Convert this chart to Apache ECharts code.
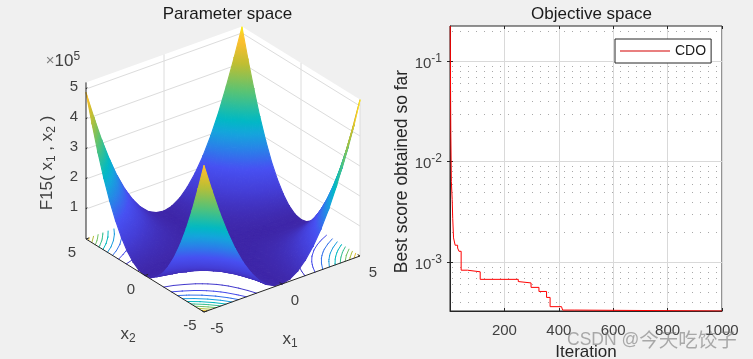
<!DOCTYPE html>
<html>
<head>
<meta charset="utf-8">
<style>
html, body { margin: 0; padding: 0; background: #f0f0f0; }
#main { width: 753px; height: 359px; }
</style>
<script src="https://cdn.jsdelivr.net/npm/echarts@6/dist/echarts.min.js"></script>
</head>
<body>
<div id="main"></div>
<script>
// left panel, values in units of 1e5
var x1Grid = [-5, -4.5, -4, -3.5, -3, -2.5, -2, -1.5, -1, -0.5, 0, 0.5, 1, 1.5, 2, 2.5, 3, 3.5, 4, 4.5, 5];
var zRows = [
    [0, 0, 0, 0, 0, 0, 0, 0, 0, 0, 0, 0, 0, 0, 0, 0, 0, 0, 0, 0, 0],
    [0.05, 0.04, 0.03, 0.02, 0.02, 0.01, 0.01, 0.00, 0.00, 0.00, 0.00, 0.00, 0.00, 0.01, 0.01, 0.01, 0.02, 0.03, 0.03, 0.04, 0.05],
    [0.20, 0.16, 0.12, 0.10, 0.07, 0.05, 0.03, 0.02, 0.01, 0.00, 0.00, 0.00, 0.01, 0.02, 0.04, 0.05, 0.08, 0.11, 0.14, 0.17, 0.21],
    [0.44, 0.36, 0.28, 0.21, 0.16, 0.11, 0.07, 0.04, 0.02, 0.00, 0.00, 0.01, 0.02, 0.05, 0.08, 0.12, 0.18, 0.24, 0.31, 0.39, 0.48],
    [0.79, 0.64, 0.50, 0.38, 0.28, 0.19, 0.12, 0.07, 0.03, 0.01, 0.00, 0.01, 0.04, 0.08, 0.14, 0.22, 0.31, 0.42, 0.55, 0.69, 0.85],
    [1.23, 0.99, 0.78, 0.59, 0.43, 0.30, 0.19, 0.10, 0.04, 0.01, 0.00, 0.02, 0.06, 0.13, 0.22, 0.34, 0.49, 0.66, 0.85, 1.08, 1.32],
    [1.77, 1.43, 1.12, 0.86, 0.62, 0.43, 0.27, 0.15, 0.06, 0.01, 0.00, 0.03, 0.09, 0.19, 0.32, 0.49, 0.70, 0.95, 1.23, 1.55, 1.91],
    [2.41, 1.95, 1.53, 1.16, 0.85, 0.58, 0.37, 0.20, 0.08, 0.02, 0.00, 0.04, 0.12, 0.25, 0.44, 0.67, 0.96, 1.29, 1.68, 2.11, 2.59],
    [3.15, 2.54, 2.00, 1.52, 1.11, 0.76, 0.48, 0.26, 0.11, 0.02, 0.00, 0.05, 0.16, 0.33, 0.57, 0.88, 1.25, 1.69, 2.19, 2.76, 3.39],
    [3.99, 3.22, 2.53, 1.93, 1.40, 0.96, 0.60, 0.33, 0.14, 0.03, 0.00, 0.06, 0.20, 0.42, 0.72, 1.11, 1.58, 2.13, 2.77, 3.49, 4.25],
    [4.88, 3.97, 3.12, 2.38, 1.73, 1.19, 0.75, 0.41, 0.17, 0.04, 0.00, 0.07, 0.24, 0.52, 0.89, 1.37, 1.95, 2.63, 3.42, 4.28, 5.20]
];
var contourLevels = [0.5, 1, 1.5, 2, 2.5, 3, 3.5, 4, 4.5, 5];
var zTicks = [1, 2, 3, 4, 5];
var floorTicks = [-5, 0, 5];
var zTop = 5.22;
var parulaPos = [0, 0.12, 0.22, 0.32, 0.4, 0.47, 0.63, 0.78, 0.9, 0.97, 1];
var parulaRgb = [[62, 38, 168], [68, 62, 215], [71, 80, 242], [40, 130, 232], [20, 165, 220], [0, 185, 195], [90, 195, 115], [190, 190, 50], [250, 190, 45], [250, 205, 40], [249, 251, 14]];

// right panel, change points of the convergence curve
var iterations = [1, 2, 3, 5, 8, 10, 13, 19, 28, 33, 41, 64, 111, 251, 258, 298, 327, 355, 368, 410, 414, 459, 1000];
var bestScores = [0.223, 0.055, 0.019, 0.0063, 0.0042, 0.0027, 0.00174, 0.00147, 0.00138, 0.00128, 0.00083, 0.0008, 0.000673, 0.00064, 0.00062, 0.00056, 0.00051, 0.000445, 0.00036, 0.00035, 0.000333, 0.000326, 0.000326];
var minorValues = [0.2, 0.09, 0.08, 0.07, 0.06, 0.05, 0.04, 0.03, 0.02, 0.009, 0.008, 0.007, 0.006, 0.005, 0.004, 0.003, 0.002, 0.0009, 0.0008, 0.0007, 0.0006, 0.0005, 0.0004];
var decadeValues = [0.1, 0.01, 0.001];

var TEXT = '#404040';
var FONT = '"Liberation Sans", Arial, sans-serif';

function zAt(i, j) {
    // j runs over x1Grid-sized x2 positions, the surface reads the same on both sides of x2 = 0
    return zRows[Math.abs(j - 10)][i];
}
function x2At(j) {
    return x1Grid[j];
}
function project(x1, x2, z) {
    return [15.6 * x1 - 11.8 * x2, 5.6 * x1 + 7.3 * x2 + 30 * z];
}
function parula(t) {
    t = Math.max(0, Math.min(1, t));
    var k = 0;
    while (k < parulaPos.length - 2 && t > parulaPos[k + 1]) {
        k++;
    }
    var f = (t - parulaPos[k]) / (parulaPos[k + 1] - parulaPos[k]);
    var a = parulaRgb[k], b = parulaRgb[k + 1];
    return 'rgb(' + Math.round(a[0] + (b[0] - a[0]) * f) + ',' + Math.round(a[1] + (b[1] - a[1]) * f) + ',' + Math.round(a[2] + (b[2] - a[2]) * f) + ')';
}
function zColor(z) {
    return parula(z / 5.25);
}

// each cell is cut in four around its middle so the shading has no diagonal bias, far ones first
var triangles = [];
function addTriangle(a, b, c) {
    var depth = 0;
    [a, b, c].forEach(function (p) {
        depth += -354 * p.x1 - 468 * p.x2 + 180 * p.z;
    });
    triangles.push({pts: [a, b, c], depth: depth});
}
function gridPoint(i, j) {
    return {x1: x1Grid[i], x2: x2At(j), z: zAt(i, j)};
}
(function () {
    for (var i = 0; i < 20; i++) {
        for (var j = 0; j < 20; j++) {
            var c = [gridPoint(i, j), gridPoint(i + 1, j), gridPoint(i + 1, j + 1), gridPoint(i, j + 1)];
            var mid = {
                x1: (c[0].x1 + c[2].x1) / 2,
                x2: (c[0].x2 + c[2].x2) / 2,
                z: (c[0].z + c[1].z + c[2].z + c[3].z) / 4
            };
            for (var k = 0; k < 4; k++) {
                addTriangle(c[k], c[(k + 1) % 4], mid);
            }
        }
    }
    triangles.sort(function (a, b) { return a.depth - b.depth; });
})();

// marching squares on the floor
var contourSegs = [];
function crossing(i0, j0, i1, j1, lev) {
    var z0 = zAt(i0, j0), z1 = zAt(i1, j1);
    if ((z0 < lev) === (z1 < lev)) {
        return null;
    }
    var f = (lev - z0) / (z1 - z0);
    return [x1Grid[i0] + (x1Grid[i1] - x1Grid[i0]) * f, x2At(j0) + (x2At(j1) - x2At(j0)) * f];
}
contourLevels.forEach(function (lev) {
    for (var i = 0; i < 20; i++) {
        for (var j = 0; j < 20; j++) {
            var hits = [
                crossing(i, j, i + 1, j, lev),
                crossing(i + 1, j, i + 1, j + 1, lev),
                crossing(i + 1, j + 1, i, j + 1, lev),
                crossing(i, j + 1, i, j, lev)
            ].filter(Boolean);
            if (hits.length === 2) {
                contourSegs.push({a: hits[0], b: hits[1], lev: lev});
            }
        }
    }
});

function renderTriangle(params, api) {
    var t = triangles[params.dataIndex];
    var pts = t.pts.map(function (p) {
        return api.coord(project(p.x1, p.x2, p.z));
    });
    var zs = t.pts.map(function (p) { return p.z; });
    var zMin = Math.min.apply(null, zs), zMax = Math.max.apply(null, zs);
    var fill = zColor((zMin + zMax) / 2);
    var det = (pts[1][0] - pts[0][0]) * (pts[2][1] - pts[0][1]) - (pts[2][0] - pts[0][0]) * (pts[1][1] - pts[0][1]);
    if (Math.abs(det) > 0.01 && zMax - zMin > 0.02) {
        var a = ((zs[1] - zs[0]) * (pts[2][1] - pts[0][1]) - (zs[2] - zs[0]) * (pts[1][1] - pts[0][1])) / det;
        var b = ((zs[2] - zs[0]) * (pts[1][0] - pts[0][0]) - (zs[1] - zs[0]) * (pts[2][0] - pts[0][0])) / det;
        var len2 = a * a + b * b;
        var s = pts[zs.indexOf(zMin)];
        var stops = [];
        for (var k = 0; k <= 4; k++) {
            stops.push({offset: k / 4, color: zColor(zMin + (zMax - zMin) * k / 4)});
        }
        fill = {
            type: 'linear', global: true,
            x: s[0], y: s[1],
            x2: s[0] + a * (zMax - zMin) / len2, y2: s[1] + b * (zMax - zMin) / len2,
            colorStops: stops
        };
    }
    return {
        type: 'polygon',
        shape: {points: pts},
        style: {fill: fill, stroke: fill, lineWidth: 1.1, lineJoin: 'round'}
    };
}

function renderContour(params, api) {
    var s = contourSegs[params.dataIndex];
    var p = api.coord(project(s.a[0], s.a[1], 0)), q = api.coord(project(s.b[0], s.b[1], 0));
    return {
        type: 'line',
        shape: {x1: p[0], y1: p[1], x2: q[0], y2: q[1]},
        style: {stroke: zColor(s.lev), lineWidth: 1, lineCap: 'round'}
    };
}

function line3d(api, a, b, color, width) {
    var p = api.coord(project(a[0], a[1], a[2])), q = api.coord(project(b[0], b[1], b[2]));
    return {type: 'line', shape: {x1: p[0], y1: p[1], x2: q[0], y2: q[1]}, style: {stroke: color, lineWidth: width}};
}
function poly3d(api, list) {
    return {
        type: 'polygon',
        shape: {points: list.map(function (p) { return api.coord(project(p[0], p[1], p[2])); })},
        style: {fill: '#fff'}
    };
}

function renderWalls(params, api) {
    var grey = '#dcdcdc';
    var kids = [
        poly3d(api, [[-5, -5, 0], [5, -5, 0], [5, 5, 0], [-5, 5, 0]]),
        poly3d(api, [[-5, 5, 0], [5, 5, 0], [5, 5, zTop], [-5, 5, zTop]]),
        poly3d(api, [[5, 5, 0], [5, -5, 0], [5, -5, zTop], [5, 5, zTop]])
    ];
    zTicks.forEach(function (z) {
        kids.push(line3d(api, [-5, 5, z], [5, 5, z], grey, 1));
        kids.push(line3d(api, [5, 5, z], [5, -5, z], grey, 1));
    });
    kids.push(line3d(api, [0, 5, 0], [0, 5, zTop], grey, 1));
    kids.push(line3d(api, [5, 0, 0], [5, 0, zTop], grey, 1));
    kids.push(line3d(api, [5, -5, 0], [5, -5, zTop], grey, 1));
    kids.push(line3d(api, [0, -5, 0], [0, 5, 0], grey, 1));
    kids.push(line3d(api, [-5, 0, 0], [5, 0, 0], grey, 1));
    return {type: 'group', children: kids};
}

function label(api, pos, dx, dy, text, rich, rotation) {
    var p = api.coord(pos);
    return {
        type: 'text', x: p[0] + dx, y: p[1] + dy, rotation: rotation || 0,
        style: {
            text: text, rich: rich, fill: TEXT, font: '15px ' + FONT,
            align: 'center', verticalAlign: 'middle'
        }
    };
}

var subRich = {
    n: {fontSize: 17, fontFamily: FONT, fill: TEXT},
    s: {fontSize: 12, fontFamily: FONT, fill: TEXT, padding: [9, 0, 0, 0]},
    e: {fontSize: 12, fontFamily: FONT, fill: TEXT, padding: [0, 0, 8, 0]},
    t: {fontSize: 15, fontFamily: FONT, fill: '#808080'}
};

function renderFrame(params, api) {
    var dark = '#262626';
    var kids = [
        line3d(api, [-5, 5, 0], [-5, -5, 0], dark, 1),
        line3d(api, [-5, -5, 0], [5, -5, 0], dark, 1),
        line3d(api, [-5, 5, 0], [-5, 5, zTop], dark, 1)
    ];
    zTicks.forEach(function (z) {
        kids.push(line3d(api, [-5, 5, z], [-4.85, 5.1, z], dark, 1));
        kids.push(label(api, project(-5, 5, z), -12, -2, String(z)));
    });
    floorTicks.forEach(function (v) {
        kids.push(line3d(api, [v, -5, 0], [v, -4.8, 0], dark, 1));
        kids.push(line3d(api, [-5, v, 0], [-4.8, v, 0], dark, 1));
        kids.push(label(api, project(-5, v, 0), -14, 14, String(v)));
        kids.push(label(api, project(v, -5, 0), 13, 17, String(v)));
    });
    kids.push(label(api, project(-5, 0, 0), -17, 59, '{n|x}{s|2}', subRich));
    kids.push(label(api, project(0, -5, 0), 8, 55, '{n|x}{s|1}', subRich));
    kids.push(label(api, project(-5, 5, 0), -23, -178, '{t|×}{n|10}{e|5}', subRich));
    kids.push(label(api, project(-5, 5, 0), -39, -76, '{n|F15( x}{s|1}{n| , x}{s|2}{n| )}', subRich, Math.PI / 2));
    return {type: 'group', children: kids};
}

function renderMinor(params, api) {
    var p = api.coord([0, minorValues[params.dataIndex]]), q = api.coord([1000, minorValues[params.dataIndex]]);
    var y = Math.round(p[1]) + 0.5;
    return {
        type: 'line',
        shape: {x1: p[0] + 2, y1: y, x2: q[0], y2: y},
        style: {stroke: '#a8a8a8', lineWidth: 1, lineDash: [1, 7]}
    };
}

function decadeLabel(value) {
    var e = Math.log10(value);
    if (Math.abs(e - Math.round(e)) > 1e-6) {
        return '';
    }
    return '{b|10}{e|' + Math.round(e) + '}';
}

function indexData(list) {
    return list.map(function (d, i) { return [i, 0]; });
}

var custom3d = {type: 'custom', coordinateSystem: 'cartesian2d', xAxisIndex: 0, yAxisIndex: 0, clip: false, silent: true, animation: false, progressive: 0};

var option = {
    backgroundColor: '#f0f0f0',
    animation: false,
    title: [
        {text: 'Parameter space', left: 222.5, top: 1, textAlign: 'center', textStyle: {fontSize: 17, fontWeight: 'normal', fontFamily: FONT, color: '#1a1a1a'}},
        {text: 'Objective space', left: 586.5, top: 1, textAlign: 'center', textStyle: {fontSize: 17, fontWeight: 'normal', fontFamily: FONT, color: '#1a1a1a'}}
    ],
    legend: {
        data: ['CDO'], left: 615, top: 39, padding: [4, 5, 4, 5], itemWidth: 50, itemHeight: 1, itemGap: 0,
        icon: 'rect', itemStyle: {color: '#d40000'},
        backgroundColor: '#fff', borderColor: '#262626', borderWidth: 1, borderRadius: 0,
        textStyle: {fontSize: 14, fontFamily: FONT, color: '#1a1a1a', lineHeight: 16}
    },
    grid: [
        {left: 0, top: 0, width: 375, height: 359, show: false, outerBoundsMode: 'none'},
        {left: 450, top: 26, width: 272, height: 285, show: true, backgroundColor: '#fff', borderColor: '#262626', borderWidth: 1, outerBoundsMode: 'none'}
    ],
    xAxis: [
        {gridIndex: 0, type: 'value', min: -223, max: 152, show: false},
        {
            gridIndex: 1, type: 'value', min: 0, max: 1000, interval: 200,
            name: 'Iteration', nameLocation: 'middle', nameGap: 33,
            nameTextStyle: {fontSize: 17, fontFamily: FONT, color: '#262626'},
            axisLine: {lineStyle: {color: '#262626'}},
            axisTick: {inside: true, length: 3, lineStyle: {color: '#262626'}},
            axisLabel: {
                fontSize: 15, fontFamily: FONT, color: TEXT, margin: 12, hideOverlap: false,
                formatter: function (v) { return v === 0 ? '' : String(v); }
            },
            splitLine: {show: true, lineStyle: {color: '#d9d9d9', width: 1}}
        },
        {
            gridIndex: 1, type: 'value', min: 0, max: 1000, interval: 200, position: 'top',
            axisLine: {show: false}, axisLabel: {show: false}, splitLine: {show: false},
            axisTick: {inside: true, length: 3, lineStyle: {color: '#262626'}}
        }
    ],
    yAxis: [
        {gridIndex: 0, type: 'value', min: -111.5, max: 247.5, show: false},
        {
            gridIndex: 1, type: 'log', logBase: 10, min: 0.000326, max: 0.223,
            name: 'Best score obtained so far', nameLocation: 'middle', nameGap: 39,
            nameTextStyle: {fontSize: 17.5, fontFamily: FONT, color: '#262626', padding: [0, 6, 0, 0]},
            axisLine: {lineStyle: {color: '#262626'}},
            axisTick: {inside: true, length: 3, lineStyle: {color: '#262626'}, customValues: decadeValues},
            axisLabel: {
                margin: 8, customValues: decadeValues, formatter: decadeLabel,
                rich: {
                    b: {fontSize: 15, fontFamily: FONT, color: TEXT, padding: [5, 0, 0, 0]},
                    e: {fontSize: 12, fontFamily: FONT, color: TEXT, padding: [0, 0, 5, 0]}
                }
            },
            splitLine: {show: true, lineStyle: {color: '#d9d9d9', width: 1}}
        },
        {
            gridIndex: 1, type: 'log', logBase: 10, min: 0.000326, max: 0.223, position: 'right',
            axisLine: {show: false}, axisLabel: {show: false}, splitLine: {show: false},
            axisTick: {inside: true, length: 3, lineStyle: {color: '#262626'}, customValues: decadeValues}
        }
    ],
    graphic: [{
        type: 'text', left: 567, top: 330, z: 100, silent: true,
        style: {
            text: '{a|CSDN @}{b|今天吃饺子}',
            rich: {
                a: {fontSize: 17.5, fontFamily: FONT, fill: 'rgba(120,120,120,0.6)'},
                b: {fontSize: 19.5, fontFamily: '"Noto Sans CJK SC"', fill: 'rgba(120,120,120,0.6)'}
            }
        }
    }],
    series: [
        Object.assign({}, custom3d, {name: 'walls', data: [[0, 0]], renderItem: renderWalls, z: 1}),
        Object.assign({}, custom3d, {name: 'contours', data: indexData(contourSegs), renderItem: renderContour, z: 2}),
        Object.assign({}, custom3d, {name: 'surface', data: indexData(triangles), renderItem: renderTriangle, z: 3}),
        Object.assign({}, custom3d, {name: 'frame', data: [[0, 0]], renderItem: renderFrame, z: 4}),
        {
            name: 'minor', type: 'custom', coordinateSystem: 'cartesian2d', xAxisIndex: 1, yAxisIndex: 1,
            silent: true, z: 1, data: minorValues.map(function (v) { return [0, v]; }), renderItem: renderMinor
        },
        {
            name: 'CDO', type: 'line', xAxisIndex: 1, yAxisIndex: 1, step: 'end', showSymbol: false, symbol: 'none',
            z: 5, color: '#ff0000', lineStyle: {color: '#ff0000', width: 1},
            data: iterations.map(function (it, i) { return [it, bestScores[i]]; })
        }
    ]
};

var chart = echarts.init(document.getElementById('main'), null, {renderer: 'canvas'});
chart.setOption(option);
</script>
</body>
</html>
